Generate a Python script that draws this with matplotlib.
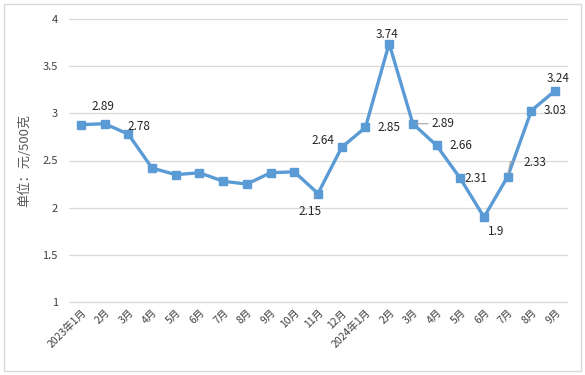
import matplotlib
matplotlib.use("Agg")
import matplotlib.pyplot as plt
from matplotlib.patches import Rectangle

plt.rcParams['font.family'] = ['Noto Sans CJK SC', 'DejaVu Sans']

months = ['2023年1月', '2月', '3月', '4月', '5月', '6月', '7月', '8月', '9月', '10月',
          '11月', '12月', '2024年1月', '2月', '3月', '4月', '5月', '6月', '7月', '8月', '9月']
prices = [2.88, 2.89, 2.78, 2.42, 2.35, 2.37, 2.28, 2.25, 2.37, 2.38,
          2.15, 2.64, 2.85, 3.74, 2.89, 2.66, 2.31, 1.90, 2.33, 3.03, 3.24]

# labelled points: index -> (text, offset in pixels)
labels = {1: ('2.89', (-2, 17)), 2: ('2.78', (11, 8)), 10: ('2.15', (-8, -18)),
          11: ('2.64', (-19, 7)), 12: ('2.85', (24, 0)), 13: ('3.74', (-2, 9)),
          14: ('2.89', (30, 0)), 15: ('2.66', (24, 0)), 16: ('2.31', (16, 0)),
          17: ('1.9', (12, -14)), 18: ('2.33', (27, 14)), 19: ('3.03', (24, 0)),
          20: ('3.24', (3, 12))}

fig = plt.figure(figsize=(5.85, 3.75), dpi=100)
ax = fig.add_axes([69 / 585, 1 - 302 / 375, 498 / 585, 283 / 375])

x = range(len(months))
ax.plot(x, prices, color='#5B9BD5', lw=2.4, marker='s', ms=6, zorder=3)

for i, (txt, off) in labels.items():
    ax.annotate(txt, (i, prices[i]), xytext=off, textcoords='offset pixels',
                ha='center', va='center', fontsize=8.5, color='#262626')

# leader lines
ax.annotate('', (10, prices[10]), xytext=(-6, -6), textcoords='offset pixels',
            arrowprops=dict(arrowstyle='-', color='#A6A6A6', lw=0.8))
ax.annotate('', (14, prices[14]), xytext=(18, 0), textcoords='offset pixels',
            arrowprops=dict(arrowstyle='-', color='#A6A6A6', lw=0.8))
ax.annotate('', (18, prices[18]), xytext=(9, 15), textcoords='offset pixels',
            arrowprops=dict(arrowstyle='-', color='#A6A6A6', lw=0.8,
                            connectionstyle='angle,angleA=0,angleB=80,rad=0'))

ax.set_xlim(-0.5, len(months) - 0.5)
ax.set_ylim(1, 4)
ax.set_yticks([1, 1.5, 2, 2.5, 3, 3.5, 4])
ax.set_yticklabels(['1', '1.5', '2', '2.5', '3', '3.5', '4'])
ax.set_xticks(list(x))
ax.set_xticklabels(months, rotation=45, ha='right', rotation_mode='anchor')
ax.tick_params(axis='both', length=0, labelsize=7.5, colors='#404040')
ax.tick_params(axis='y', pad=8, labelsize=8)
ax.tick_params(axis='x', pad=4)
ax.grid(axis='y', color='#D9D9D9', lw=0.9)
for gl in ax.get_ygridlines():
    gl.set_clip_on(False)
ax.set_axisbelow(True)
for s in ax.spines.values():
    s.set_visible(False)

fig.text(25 / 585, 1 - 160 / 375, '单位：元/500克', rotation=90, ha='center', va='center',
         fontsize=9.5, color='#595959')

fig.patches.append(Rectangle((4 / 585, 4 / 375), 577 / 585, 367 / 375, transform=fig.transFigure,
                             fill=False, edgecolor='#D9D9D9', lw=1))

fig.savefig('out.png', dpi=100)
